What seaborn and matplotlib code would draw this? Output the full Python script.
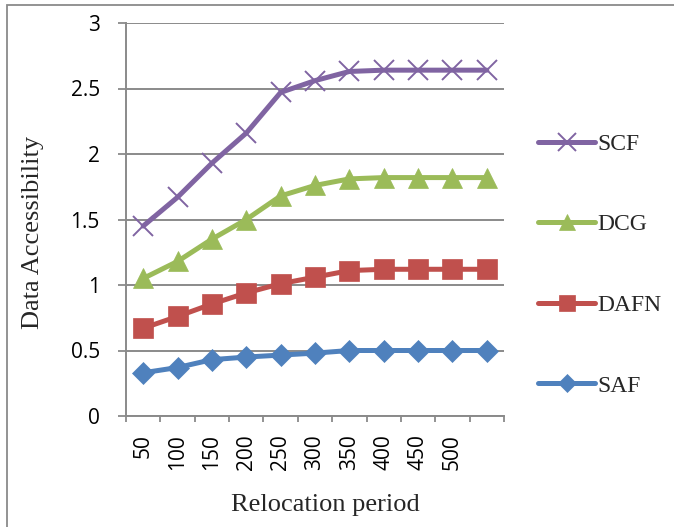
import numpy as np
import pandas as pd
import matplotlib
matplotlib.use("Agg")
import matplotlib.pyplot as plt
from matplotlib.lines import Line2D
from matplotlib.patches import Rectangle
from matplotlib.ticker import FixedLocator, FixedFormatter
import seaborn as sns

# Relocation periods (the last category carries no label)
periods = ["50", "100", "150", "200", "250", "300", "350", "400", "450", "500", ""]

saf = [0.33, 0.37, 0.43, 0.45, 0.465, 0.48, 0.50, 0.50, 0.50, 0.50, 0.50]
dafn = [0.67, 0.76, 0.855, 0.94, 1.01, 1.06, 1.11, 1.12, 1.12, 1.12, 1.12]
dcg = [1.05, 1.18, 1.35, 1.50, 1.68, 1.76, 1.81, 1.82, 1.82, 1.82, 1.82]
scf = [1.45, 1.67, 1.93, 2.16, 2.47, 2.56, 2.63, 2.64, 2.64, 2.64, 2.64]

y_ticks = [0, 0.5, 1, 1.5, 2, 2.5, 3]
y_tick_labels = ["0", "0.5", "1", "1.5", "2", "2.5", "3"]

series_names = ["SAF", "DAFN", "DCG", "SCF"]
series_values = [saf, dafn, dcg, scf]
colors = {"SAF": "#4F81BD", "DAFN": "#C0504D", "DCG": "#9BBB59", "SCF": "#8064A2"}
markers = {"SAF": "D", "DAFN": "s", "DCG": "^", "SCF": "x"}
msizes = {"SAF": 11, "DAFN": 14, "DCG": 14, "SCF": 15}
mews = {"SAF": 0.5, "DAFN": 0.5, "DCG": 0.5, "SCF": 1.4}
LW = 3.6

rows = []
for name, vals in zip(series_names, series_values):
    for i, v in enumerate(vals):
        rows.append({"idx": i, "value": v, "series": name})
df = pd.DataFrame(rows)

sns.set_style("white")
plt.rcParams["font.family"] = ["Liberation Serif", "DejaVu Sans"]

fig = plt.figure(figsize=(6.74, 5.27), dpi=100)
ax = fig.add_axes([126 / 674, 1 - 416 / 527, (504 - 126) / 674, (416 - 23) / 527])

for name in series_names:
    sub = df[df["series"] == name]
    sns.lineplot(data=sub, x="idx", y="value", ax=ax, color=colors[name],
                 linewidth=LW, marker=markers[name], markersize=msizes[name],
                 markeredgecolor=colors[name], markeredgewidth=mews[name],
                 legend=False, zorder=3)

grey = "#8a8a8a"
ax.set_xlim(-0.5, len(periods) - 0.5)
ax.set_ylim(0, 3)
ax.yaxis.set_major_locator(FixedLocator(y_ticks))
ax.yaxis.set_major_formatter(FixedFormatter(y_tick_labels))
ax.grid(axis="y", color=grey, linewidth=1.4)
ax.set_axisbelow(True)

ax.xaxis.set_major_locator(FixedLocator(range(len(periods))))
ax.xaxis.set_major_formatter(FixedFormatter(periods))
ax.xaxis.set_minor_locator(FixedLocator(np.arange(-0.5, len(periods), 1.0)))
ax.tick_params(axis="x", which="major", length=0, pad=13, labelrotation=90,
               labelsize=15, labelfontfamily="Open Sans", labelcolor="black")
ax.tick_params(axis="x", which="minor", length=4.5, width=1.3, color=grey, bottom=True)
ax.tick_params(axis="y", length=5.8, width=1.3, color=grey, left=True, pad=13,
               labelsize=15, labelfontfamily="Open Sans", labelcolor="black")

for side in ["top", "right"]:
    ax.spines[side].set_visible(False)
for side in ["left", "bottom"]:
    ax.spines[side].set_color(grey)
    ax.spines[side].set_linewidth(1.4)

ax.set_xlabel("")
ax.set_ylabel("")
fig.text(325 / 674, 1 - 505 / 527, "Relocation period", ha="center", va="center", fontsize=19)
fig.text(33 / 674, 1 - 232 / 527, "Data Accessibility", ha="center", va="center",
         rotation=90, fontsize=19)

legend_order = ["SCF", "DCG", "DAFN", "SAF"]
handles = [Line2D([], [], color=colors[n], linewidth=LW, marker=markers[n],
                  markersize=msizes[n] * 0.85, markeredgecolor=colors[n],
                  markeredgewidth=mews[n])
           for n in legend_order]
fig.legend(handles, legend_order, loc="center left",
           bbox_to_anchor=(517 / 674, 1 - 265 / 527), frameon=False,
           fontsize=17, labelspacing=2.5, handlelength=2.4, handletextpad=0.1)

fig.add_artist(Rectangle((7 / 674, -0.1), 1.2, 1 - 5 / 527 + 0.1,
                         transform=fig.transFigure, fill=False,
                         edgecolor=grey, linewidth=1.3))

fig.savefig("out.png", dpi=100, facecolor="white")
